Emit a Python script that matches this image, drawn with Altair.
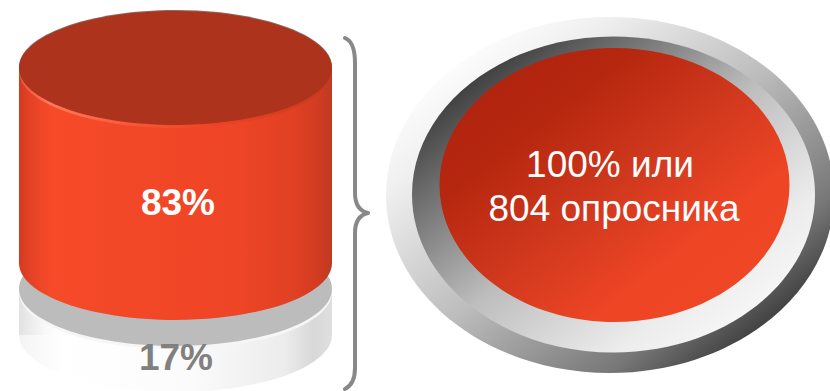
import altair as alt

# Survey shares and totals shown on the drawing
share_labels = ["83%", "17%"]
share_values = [83, 17]
total_lines = ["100% или", "804 опросника"]

# The lower disc sits a little apart from the upper one, in value units
DISC_GAP = 11.07
base_top = share_values[1]
body_bottom = base_top + DISC_GAP
body_top = body_bottom + share_values[0]

y_scale = alt.Scale(domain=[0, base_top, body_top], range=[335, 289, 68])
CYL_X0, CYL_X1 = 19, 332
CYL_CX = (CYL_X0 + CYL_X1) / 2
CYL_SIZE = (CYL_X1 - CYL_X0) ** 2


def ellipse(ratio):
    return f"M-1 0A1 {ratio} 0 1 0 1 0A1 {ratio} 0 1 0 -1 0Z"


def gradient(stops, x2=1, y2=0):
    return alt.Gradient(
        gradient="linear", x1=0, y1=0, x2=x2, y2=y2,
        stops=[alt.GradientStop(offset=o, color=c) for o, c in stops],
    )


body_fill = gradient([(0, "#d23a20"), (0.03, "#e34025"), (0.1, "#f64a29"), (0.7, "#ee4526"),
                      (0.88, "#e04023"), (0.96, "#d03c21"), (1, "#bd3a20")])
base_fill = gradient([(0, "#e2e2e2"), (0.08, "#f8f8f8"), (0.14, "#ffffff"), (0.55, "#fbfbfb"),
                      (0.85, "#ececec"), (0.94, "#d8d8d8"), (1, "#dfdfdf")])
base_end_fill = gradient([(0, "#f4f4f4"), (0.14, "#ffffff"), (0.55, "#fbfbfb"),
                          (0.85, "#ececec"), (0.94, "#d8d8d8"), (1, "#dfdfdf")])
rim_fill = gradient([(0, "#e8553a"), (0.1, "#ff7a5c"), (0.35, "#f9583a"), (0.6, "#ee4526"), (1, "#c43a20")])

outer_fill = gradient([(0.12, "#ffffff"), (0.25, "#efefef"), (0.5, "#bcbcbc"), (0.75, "#777777"),
                       (0.85, "#444444"), (1, "#333333")], 1, 1)
ring_fill = gradient([(0.14, "#3f3f3f"), (0.25, "#686868"), (0.5, "#bdbdbd"), (0.75, "#ececec"),
                      (0.86, "#f6f6f6"), (1, "#ffffff")], 1, 1)
face_fill = gradient([(0.15, "#b1240f"), (0.28, "#b6270f"), (0.5, "#d0381d"), (0.72, "#ee4525"),
                      (1, "#f04826")], 1, 1)


def at_value(value):
    return alt.Data(values=[{"v": value}])


def disc(value, fill, ratio=0.364, **mark):
    return alt.Chart(at_value(value)).mark_point(
        shape=ellipse(ratio), size=CYL_SIZE, filled=True, fill=fill, opacity=1, strokeWidth=0, **mark
    ).encode(x=alt.value(CYL_CX), y=alt.Y("v:Q", scale=y_scale, axis=None))


def side(start, end, fill):
    return alt.Chart(alt.Data(values=[{"a": start, "b": end}])).mark_rect(fill=fill, opacity=1).encode(
        x=alt.value(CYL_X0), x2=alt.value(CYL_X1),
        y=alt.Y("a:Q", scale=y_scale, axis=None), y2="b:Q",
    )


def badge(cx, cy, rx, ry, fill):
    return alt.Chart(at_value(0)).mark_point(
        shape=ellipse(round(ry / rx, 4)), size=(2 * rx) ** 2, filled=True, fill=fill, opacity=1, strokeWidth=0
    ).encode(x=alt.value(cx), y=alt.value(cy))


def label(text, cx, cy, size, color, weight="normal"):
    return alt.Chart(alt.Data(values=[{"t": text}])).mark_text(
        font="Liberation Sans", fontSize=size, fontWeight=weight, color=color, align="center", baseline="middle"
    ).encode(x=alt.value(cx), y=alt.value(cy), text="t:N")


brace_path = "M-10 -175Q0 -171 0 -150L0 -20Q0 -3 13 0Q0 3 0 20L0 155Q0 171 -10 176"
brace = alt.Chart(at_value(0)).mark_point(
    shape=brace_path, size=4, filled=False, fill="transparent", stroke="#888888", strokeWidth=4, opacity=1,
    strokeCap="round", strokeJoin="round",
).encode(x=alt.value(355), y=alt.value(213))

chart = alt.layer(
    # lower white disc
    disc(0, base_end_fill),
    side(0, base_top, base_fill),
    disc(base_top, "#f6f6f6", yOffset=3),
    disc(base_top, "#bcbcbc"),
    # upper red cylinder
    disc(body_bottom, body_fill),
    side(body_bottom, body_top, body_fill),
    disc(body_top, rim_fill, yOffset=3),
    disc(body_top, "#8a6a60", yOffset=-1),
    disc(body_top, "#ae331c"),
    label(share_labels[0], 178, 204, 37, "#ffffff", "bold"),
    label(share_labels[1], 176, 359, 37, "#808080", "bold"),
    brace,
    # total badge
    badge(610, 195, 224, 178, outer_fill),
    badge(613.5, 194.5, 201.5, 158, ring_fill),
    badge(614.5, 185, 175, 137, face_fill),
    label(total_lines[0], 610, 166, 37, "#ffffff"),
    label(total_lines[1], 614, 210, 37, "#ffffff"),
).properties(
    width=830, height=391, padding=0, background="#ffffff",
    autosize=alt.AutoSizeParams(type="none"),
).configure_view(stroke=None)

chart.save("out.html", embed_options={"renderer": "svg", "actions": False})
